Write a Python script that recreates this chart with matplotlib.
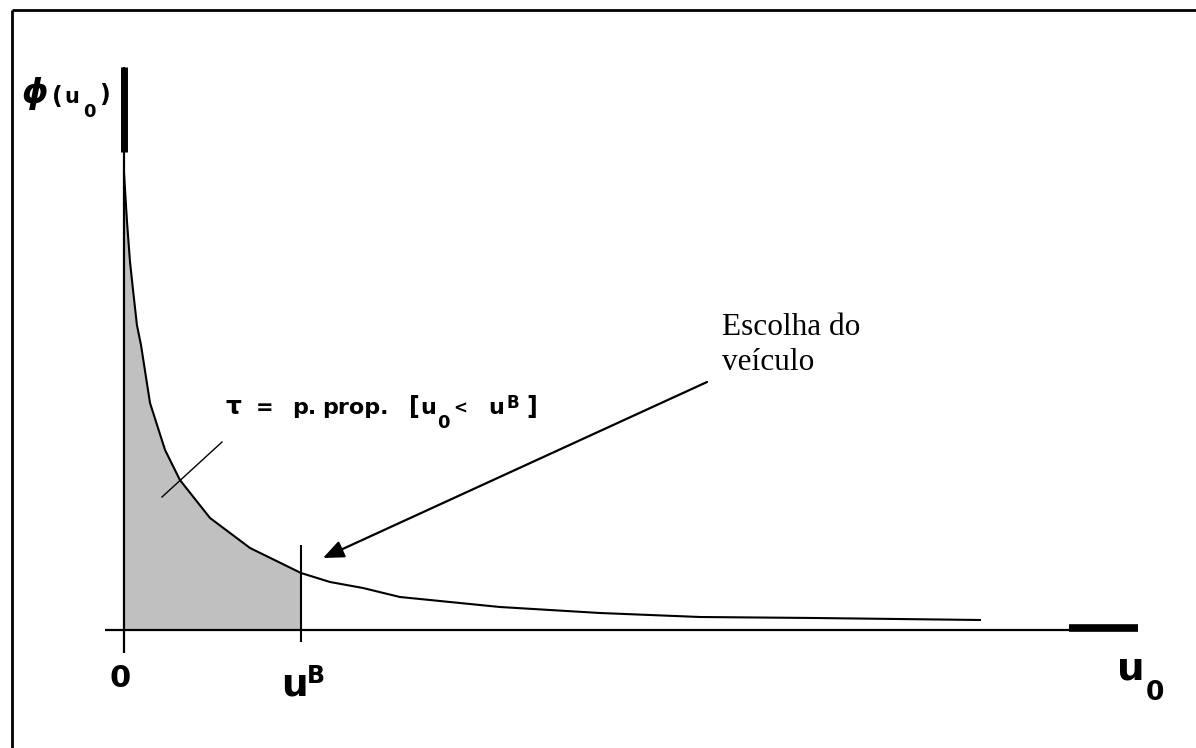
import matplotlib
matplotlib.use("Agg")
import matplotlib.pyplot as plt
from matplotlib.patches import FancyArrowPatch

# ---- data (u0 in units of u^B, phi in arbitrary units) ----
u_curve = [0.0, 0.017, 0.034, 0.051, 0.073, 0.096, 0.147, 0.232, 0.316, 0.486,
           0.712, 1.0, 1.164, 1.350, 1.559, 2.124, 2.689, 3.254, 3.904, 4.836]
phi_curve = [4.57, 4.08, 3.68, 3.40, 3.05, 2.85, 2.27, 1.80, 1.50, 1.12,
             0.82, 0.57, 0.48, 0.42, 0.33, 0.23, 0.17, 0.13, 0.12, 0.10]
u_B = 1.0
x_labels = ["0", "u", "B"]

# ---- layout: axes cover the whole figure; pixel <-> data mapping ----
W, H = 1196, 748
OX, OY = 124, 630          # pixel position of origin
SX, SY = 177.0, 100.0      # pixels per data unit


def P(px, py):
    """pixel position (layout only) -> data coords"""
    return ((px - OX) / SX, (OY - py) / SY)


fig = plt.figure(figsize=(W / 100, H / 100), dpi=100)
ax = fig.add_axes([0, 0, 1, 1])
ax.set_xlim(P(0, 0)[0], P(W, 0)[0])
ax.set_ylim(P(0, H)[1], P(0, 0)[1])
ax.axis("off")

k = "black"
# frame (top and left)
ax.plot([P(12, 0)[0], P(12, 0)[0]], [P(0, 10)[1], P(0, H)[1]], color=k, lw=2.0,
        solid_capstyle="butt")
ax.plot([P(12, 0)[0], P(W, 0)[0]], [P(0, 10)[1], P(0, 10)[1]], color=k, lw=2.0,
        solid_capstyle="butt")

# shaded area
uf = [u for u in u_curve if u <= u_B]
pf = phi_curve[:len(uf)]
ax.fill_between(uf, pf, 0, color="#c0c0c0", lw=0)

# axes lines
ax.plot([0, 0], [P(0, 653)[1], P(0, 168)[1]], color=k, lw=1.6, solid_capstyle="butt")
ax.plot([0, 0], [P(0, 168)[1], P(0, 67)[1]], color=k, lw=1.6, solid_capstyle="butt")
ax.plot([0, 0], [P(0, 152)[1], P(0, 67)[1]], color=k, lw=5.0, solid_capstyle="butt")
ax.plot([P(105, 0)[0], P(1138, 0)[0]], [0, 0], color=k, lw=1.6, solid_capstyle="butt")
ax.plot([P(1069, 0)[0], P(1138, 0)[0]], [P(0, 628)[1]] * 2, color=k, lw=5.5,
        solid_capstyle="butt")

# curve
ax.plot(u_curve, phi_curve, color=k, lw=1.5)

# u^B line
ax.plot([u_B, u_B], [P(0, 642)[1], P(0, 545)[1]], color=k, lw=1.5, solid_capstyle="butt")

FAM = "DejaVu Sans"


def T(px, py, s, size, **kw):
    ax.text(*P(px, py), s, fontsize=size, family=FAM, weight="bold", color=k,
            ha="left", va="baseline", **kw)


# y label phi(u0)
T(22, 103, "\u03d5", 24, style="italic")
T(52, 104, "(", 17)
T(64, 103, "u", 15)
T(83, 117, "0", 13)
T(99, 102, ")", 17)

# x labels
ax.text(*P(120, 687), x_labels[0], fontsize=22, family=FAM, weight="bold", color=k,
        ha="center", va="baseline")
T(281, 695, x_labels[1], 27)
T(307, 683, x_labels[2], 17)
T(1117, 680, "u", 28)
T(1146, 700, "0", 19)

# tau annotation
T(226, 414, "\u03c4", 18)
T(256, 414, "=", 15)
T(292, 414, "p.", 16)
T(322, 414, "prop.", 16)
T(409, 414, "[", 17)
T(420, 414, "u", 16)
T(437, 428, "0", 13)
T(453, 414, "<", 12)
T(488, 414, "u", 16)
T(507, 408, "B", 12)
T(526, 414, "]", 17)
ax.plot([P(162, 0)[0], P(222, 0)[0]], [P(0, 497)[1], P(0, 442)[1]], color=k, lw=1.0)

# arrow + "Escolha do veículo"
arr = FancyArrowPatch(P(707, 382), P(323, 558),
                      arrowstyle="-|>,head_length=0.9,head_width=0.38",
                      mutation_scale=14, color=k, lw=1.6, shrinkA=0, shrinkB=0)
ax.add_patch(arr)
ax.text(*P(722, 335), "Escolha do", fontsize=22.5, family="Liberation Serif",
        ha="left", va="baseline", color=k)
ax.text(*P(722, 370), "veículo", fontsize=22.5, family="Liberation Serif",
        ha="left", va="baseline", color=k)

fig.savefig("out.png", dpi=100)
